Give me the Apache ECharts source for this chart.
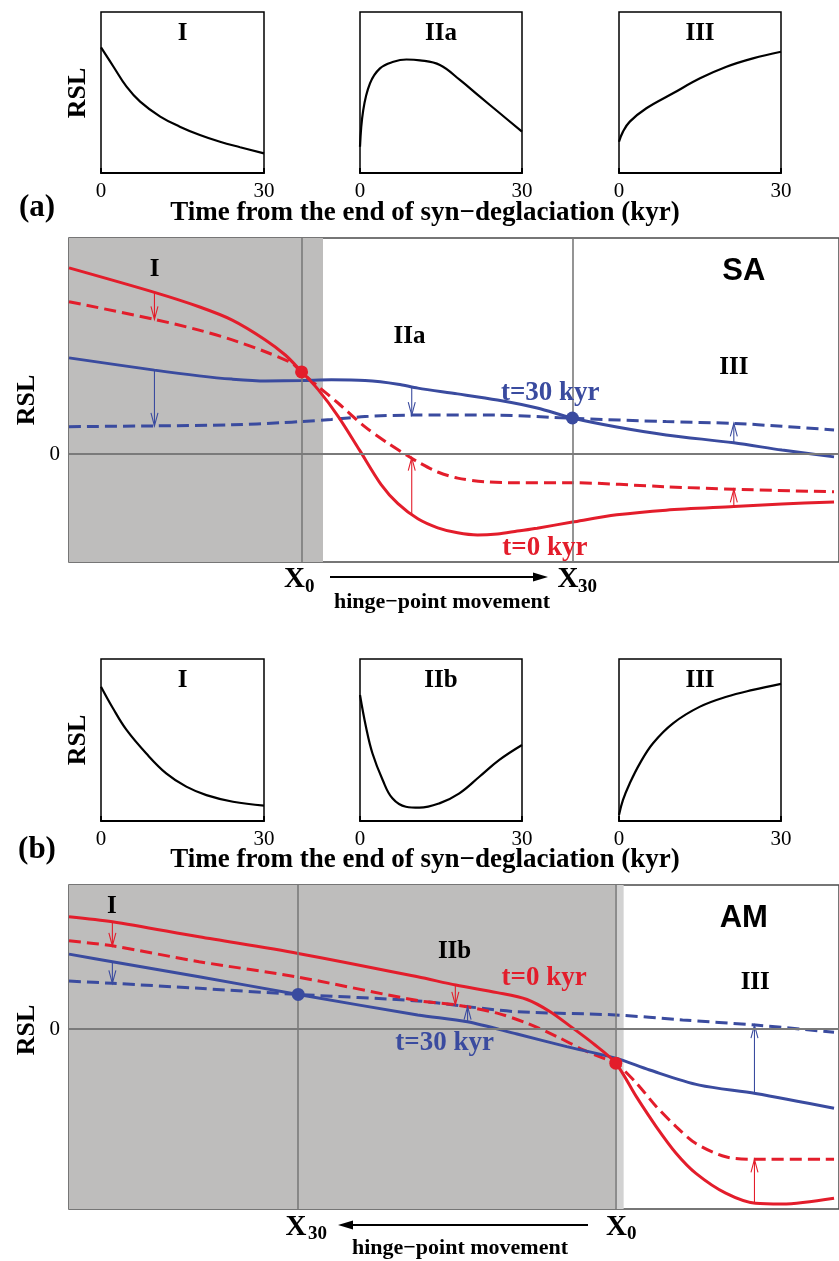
<!DOCTYPE html>
<html><head><meta charset="utf-8">
<script src="https://cdn.jsdelivr.net/npm/echarts@6/dist/echarts.min.js"></script>
<style>html,body{margin:0;padding:0;background:#fff}#c{width:839px;height:1261px}</style>
</head><body><div id="c"></div><script>
// ---------- DATA ----------
// Inset curves: [time (kyr), normalized RSL]
const insetA_I   = [[0,0.78],[2.3,0.66],[4.7,0.536],[7.2,0.443],[10.9,0.35],[14.5,0.288],[18.2,0.236],[21.9,0.194],[25.6,0.16],[30,0.122]];
const insetA_IIa = [[0,0.163],[0.6,0.391],[1.85,0.557],[3.7,0.65],[6.2,0.691],[8.6,0.705],[11.1,0.70],[14.8,0.671],[18.5,0.578],[22.2,0.474],[25.9,0.371],[30,0.257]];
const insetA_III = [[0,0.194],[0.74,0.257],[2.0,0.319],[5.07,0.402],[10,0.495],[15,0.588],[19.9,0.66],[24.8,0.712],[30,0.753]];
const insetB_I   = [[0,0.829],[2.2,0.696],[4.7,0.562],[8.3,0.418],[12,0.294],[15.7,0.212],[19.4,0.16],[24.3,0.119],[30,0.095]];
const insetB_IIb = [[0,0.778],[1.1,0.582],[2.3,0.418],[4.2,0.253],[6,0.14],[8.5,0.088],[11,0.082],[14.7,0.109],[18.4,0.171],[22.1,0.273],[25.8,0.377],[30,0.469]];
const insetB_III = [[0,0.037],[0.74,0.13],[2,0.233],[3.87,0.356],[6.3,0.48],[10,0.603],[15,0.706],[19.9,0.767],[24.8,0.809],[30,0.846]];
const insetTicks = [0, 30];

// Panel (a) SA: [distance, RSL]
const aRedSolid  = [[0,5.17],[11.17,4.49],[17,4.09],[21.34,3.72],[25.67,3.17],[28.27,2.75],[30.39,2.29],[32.6,1.78],[35.2,1.04],[38,0.1],[40.8,-0.85],[43,-1.38],[45.6,-1.8],[48.2,-2.05],[50.8,-2.19],[53.4,-2.25],[56,-2.22],[58.6,-2.14],[61.2,-2.06],[65.8,-1.89],[71.6,-1.69],[78.05,-1.56],[86.9,-1.46],[93.2,-1.39],[100,-1.33]];
const aRedDash   = [[0,4.23],[11.17,3.74],[17,3.44],[21.34,3.17],[25.67,2.84],[29.13,2.52],[30.39,2.27],[32.6,1.87],[35.2,1.41],[38.66,0.76],[41.69,0.3],[44.28,-0.05],[45.6,-0.22],[48.2,-0.5],[50.8,-0.67],[54.3,-0.77],[58.6,-0.8],[65.8,-0.8],[78.05,-0.91],[86.9,-0.98],[100,-1.05]];
const aBlueSolid = [[0,2.67],[11.17,2.33],[17,2.17],[21.3,2.08],[25.7,2.03],[30.4,2.04],[34.3,2.06],[38.7,2.04],[43,1.94],[45.6,1.83],[50.8,1.67],[56,1.5],[61.2,1.28],[65.8,1.0],[71.6,0.75],[78.05,0.53],[86.9,0.31],[93.2,0.11],[100,-0.08]];
const aBlueDash  = [[0,0.76],[11.17,0.78],[21.34,0.81],[27.8,0.87],[30.39,0.9],[34.3,0.96],[38.7,1.04],[44.7,1.08],[56,1.08],[65.8,0.99],[78.05,0.9],[86.9,0.85],[93.2,0.77],[100,0.67]];
const aHinge = {x0: 30.4, x30: 65.8, shade: 33.2};
const aDots = {red: [30.4, 2.28], blue: [65.8, 1.0]};
const aArrowsRed  = [[11.17,4.49,3.74],[44.8,-1.7,-0.1],[86.9,-1.46,-0.98]];
const aArrowsBlue = [[11.17,2.33,0.78],[44.8,1.88,1.08],[86.9,0.31,0.85]];

// Panel (b) AM
const bRedSolid  = [[0,3.12],[5.67,2.98],[17,2.56],[29.96,2.1],[45.58,1.45],[50.56,1.22],[55.97,1.01],[59.87,0.82],[62.9,0.48],[65.5,0.08],[68.5,-0.4],[71.47,-0.95],[74.16,-1.88],[76.75,-2.71],[79.35,-3.45],[81.95,-4.01],[85.84,-4.56],[89.74,-4.84],[93.2,-4.86],[100,-4.7]];
const bRedDash   = [[0,2.45],[5.67,2.31],[17,1.87],[29.96,1.44],[45.58,0.79],[50.56,0.67],[55.97,0.44],[59.87,0.16],[63.77,-0.21],[67.23,-0.58],[69.83,-0.81],[71.47,-0.95],[74.16,-1.5],[76.75,-2.15],[79.35,-2.71],[81.95,-3.18],[85.84,-3.55],[89.74,-3.62],[100,-3.62]];
const bBlueSolid = [[0,2.08],[5.67,1.87],[17,1.45],[29.96,0.96],[45.58,0.39],[52.08,0.2],[58.57,-0.14],[65.06,-0.49],[71.47,-0.81],[75.9,-1.14],[82.4,-1.56],[89.74,-1.79],[100,-2.2]];
const bBlueDash  = [[0,1.33],[5.67,1.27],[17,1.13],[29.96,0.96],[45.58,0.78],[52.08,0.62],[58.57,0.48],[71.47,0.39],[80.2,0.25],[89.74,0.11],[100,-0.09]];
const bHinge = {x0: 71.47, x30: 29.96, shade: 71.4, strip: 72.5};
const bDots = {red: [71.47, -0.95], blue: [29.96, 0.96]};
const bArrowsRed  = [[5.67,2.98,2.31],[50.5,1.22,0.67],[89.6,-4.84,-3.62]];
const bArrowsBlue = [[5.67,1.87,1.27],[52.1,0.2,0.62],[89.6,-1.79,0.11]];

// ---------- STYLE ----------
const RED = '#e31d2b', BLUE = '#3a4b9f', GRAY = '#bebdbc';
const SERIF = '"Liberation Serif", "DejaVu Serif", serif';
const SANS = '"Liberation Sans", Arial, sans-serif';

const chart = echarts.init(document.getElementById('c'), null, {renderer: 'canvas'});

const grids = [
  {left:101, top:12, width:163, height:161},
  {left:360, top:12, width:162, height:161},
  {left:619, top:12, width:162, height:161},
  {left:69, top:238, width:775, height:324},
  {left:101, top:659, width:163, height:162},
  {left:360, top:659, width:162, height:162},
  {left:619, top:659, width:162, height:162},
  {left:69, top:885, width:775, height:324}
].map((g,i) => Object.assign(g, {show:true, borderColor: (i===3||i===7)?'#4a4a4a':'#000', borderWidth:1.5, backgroundColor:'rgba(0,0,0,0)'}));

const xAxes = [], yAxes = [];
grids.forEach((g,i) => {
  const main = (i===3||i===7);
  if (main) {
    xAxes.push({gridIndex:i, type:'value', min:0, max:100*775/770, show:false});
    yAxes.push({gridIndex:i, type:'value', min: i===3?-3:-5, max: i===3?6:4, interval: i===3?3:1,
      axisLine:{show:false}, axisTick:{show:false}, splitLine:{show:false},
      axisLabel:{show:true, margin:9, fontFamily:SERIF, fontSize:21, color:'#000', formatter:v => v===0?'0':''}});
  } else {
    xAxes.push({gridIndex:i, type:'value', min:insetTicks[0], max:insetTicks[1], interval:insetTicks[1]-insetTicks[0],
      axisLine:{show:true, lineStyle:{color:'#000', width:2}},
      axisTick:{show:true, inside:true, length:5, lineStyle:{color:'#000', width:2}},
      splitLine:{show:false},
      axisLabel:{show:true, margin:8, fontFamily:SERIF, fontSize:21, color:'#000'}});
    yAxes.push({gridIndex:i, type:'value', min:0, max:1, show:false});
  }
});

const series = [];
function insetLine(idx, data) {
  series.push({type:'line', xAxisIndex:idx, yAxisIndex:idx, data, smooth:0.4, showSymbol:false, symbol:'none',
    lineStyle:{color:'#000', width:2.2}, silent:true, z:3});
}
insetLine(0, insetA_I); insetLine(1, insetA_IIa); insetLine(2, insetA_III);
insetLine(4, insetB_I); insetLine(5, insetB_IIb); insetLine(6, insetB_III);

function backdrop(idx, areas, vlines) {
  series.push({type:'line', xAxisIndex:idx, yAxisIndex:idx, data:[[0,0]], symbol:'none', lineStyle:{opacity:0}, silent:true, z:1,
    markArea:{silent:true, data: areas},
    markLine:{silent:true, symbol:['none','none'], label:{show:false},
      lineStyle:{color:'#7a7a7a', width:1.6, type:'solid'},
      data: vlines.map(v => ({xAxis:v})).concat([{yAxis:0, lineStyle:{color:'#7a7a7a', width:2}}])}
  });
}
backdrop(3, [[{xAxis:0, itemStyle:{color:GRAY, opacity:1}},{xAxis:aHinge.shade}]], [aHinge.x0, aHinge.x30]);
backdrop(7, [[{xAxis:0, itemStyle:{color:GRAY, opacity:1}},{xAxis:bHinge.shade}], [{xAxis:bHinge.shade, itemStyle:{color:'#d2d2d2', opacity:1}},{xAxis:bHinge.strip}]], [bHinge.x0, bHinge.x30]);

function curve(idx, data, color, dashed) {
  series.push({type:'line', xAxisIndex:idx, yAxisIndex:idx, data, smooth:0.3, symbol:'none', showSymbol:false, silent:true, z:3,
    lineStyle:{color, width:3, type: dashed ? [12,6] : 'solid'}});
}
curve(3, aBlueDash, BLUE, true); curve(3, aRedDash, RED, true);
curve(3, aBlueSolid, BLUE, false); curve(3, aRedSolid, RED, false);
curve(7, bBlueDash, BLUE, true); curve(7, bRedDash, RED, true);
curve(7, bBlueSolid, BLUE, false); curve(7, bRedSolid, RED, false);

function arrows(idx, data, color) {
  series.push({type:'custom', xAxisIndex:idx, yAxisIndex:idx, data, silent:true, z:4,
    encode:{x:0, y:[1,2]},
    renderItem(params, api) {
      const x = api.value(0);
      const p0 = api.coord([x, api.value(1)]), p1 = api.coord([x, api.value(2)]);
      const dir = p1[1] > p0[1] ? 1 : -1;
      const hl = 13, hw = 3.5;
      return {type:'group', children:[
        {type:'line', shape:{x1:p0[0], y1:p0[1], x2:p1[0], y2:p1[1]}, style:{stroke:color, lineWidth:1.1}},
        {type:'polyline', shape:{points:[[p1[0]-hw, p1[1]-dir*hl],[p1[0], p1[1]],[p1[0]+hw, p1[1]-dir*hl]]}, style:{stroke:color, fill:null, lineWidth:1.1}}
      ]};
    }});
}
arrows(3, aArrowsRed, RED); arrows(3, aArrowsBlue, BLUE);
arrows(7, bArrowsRed, RED); arrows(7, bArrowsBlue, BLUE);

function dots(idx, d) {
  series.push({type:'scatter', xAxisIndex:idx, yAxisIndex:idx, silent:true, z:6, symbolSize:13,
    itemStyle:{opacity:1},
    data:[{value:d.red, itemStyle:{color:RED, opacity:1}}, {value:d.blue, itemStyle:{color:BLUE, opacity:1}}]});
}
dots(3, aDots); dots(7, bDots);

// Text annotations inside panels (position in data coordinates)
function texts(idx, items) {
  series.push({type:'scatter', xAxisIndex:idx, yAxisIndex:idx, silent:true, z:7, symbolSize:0,
    itemStyle:{opacity:1, color:'rgba(0,0,0,0)'},
    data: items.map(t => ({value:[t[1], t[2]], name:t[0],
      label:{show:true, position:'inside', formatter:'{b}', opacity:1, fontFamily:t[4]||SERIF, fontWeight:'bold', fontSize:t[5]||25, color:t[3]||'#000'}}))});
}
texts(0, [['I', 15, 0.865]]); texts(1, [['IIa', 15, 0.865]]); texts(2, [['III', 15, 0.865]]);
texts(4, [['I', 15, 0.865]]); texts(5, [['IIb', 15, 0.865]]); texts(6, [['III', 15, 0.865]]);
texts(3, [['I', 11.2, 5.11], ['IIa', 44.5, 3.25], ['SA', 88.2, 5.06, '#000', SANS, 31], ['III', 86.9, 2.39],
          ['t=30 kyr', 62.9, 1.69, BLUE, SERIF, 27], ['t=0 kyr', 62.2, -2.61, RED, SERIF, 27]]);
texts(7, [['I', 5.6, 3.39], ['IIb', 50.4, 2.14], ['t=0 kyr', 62.1, 1.42, RED, SERIF, 27], ['t=30 kyr', 49.1, -0.39, BLUE, SERIF, 27],
          ['AM', 88.2, 3.08, '#000', SANS, 31], ['III', 89.7, 1.28]]);

// ---------- GRAPHIC (titles & hinge annotations) ----------
function txt(text, x, y, size, opts) {
  opts = opts || {};
  return {type:'text', x, y, rotation: opts.rot || 0, silent:true, z:10,
    style:{text, font: 'bold ' + size + 'px ' + (opts.fam || SERIF), fill: opts.color || '#000',
      textAlign: opts.align || 'center', textVerticalAlign: 'middle'}};
}
function arrowH(x1, x2, y) {
  const dir = x2 > x1 ? 1 : -1;
  return [
    {type:'line', silent:true, shape:{x1, y1:y, x2: x2 - dir*10, y2:y}, style:{stroke:'#000', lineWidth:2}},
    {type:'polygon', silent:true, shape:{points:[[x2, y],[x2 - dir*15, y-4.5],[x2 - dir*15, y+4.5]]}, style:{fill:'#000'}}
  ];
}
const graphic = [
  txt('RSL', 78, 93, 26, {rot: Math.PI/2}),
  txt('RSL', 78, 740, 26, {rot: Math.PI/2}),
  txt('RSL', 27, 400, 26, {rot: Math.PI/2}),
  txt('RSL', 27, 1030, 26, {rot: Math.PI/2}),
  txt('(a)', 37, 208, 31),
  txt('(b)', 37, 850, 31),
  txt('Time from the end of syn\u2212deglaciation (kyr)', 425, 213, 27),
  txt('Time from the end of syn\u2212deglaciation (kyr)', 425, 860, 27),
  // (a) hinge
  txt('X', 294.5, 580, 29), txt('0', 305, 587, 19, {align:'left'}),
  txt('X', 568, 580, 29), txt('30', 578, 587, 19, {align:'left'}),
  txt('hinge\u2212point movement', 442, 602, 22),
  ...arrowH(330, 548, 577),
  // (b) hinge
  txt('X', 296, 1227.5, 29), txt('30', 308, 1234, 19, {align:'left'}),
  txt('X', 616.5, 1227.5, 29), txt('0', 627, 1234, 19, {align:'left'}),
  txt('hinge\u2212point movement', 460, 1248, 22),
  ...arrowH(588, 338, 1225)
];

chart.setOption({
  animation:false,
  backgroundColor:'#fff',
  grid: grids, xAxis: xAxes, yAxis: yAxes, series, graphic
});
</script></body></html>
